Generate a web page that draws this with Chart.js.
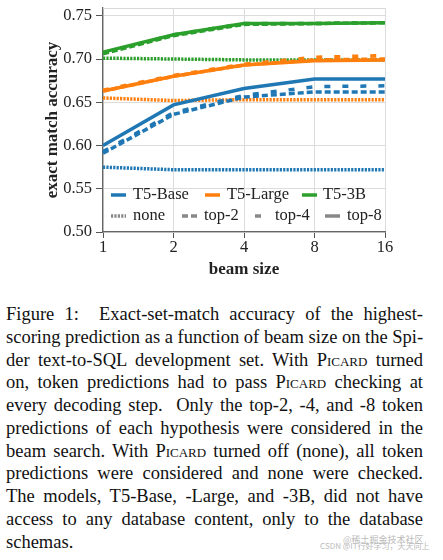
<!DOCTYPE html>
<html>
<head>
<meta charset="utf-8">
<script src="https://cdn.jsdelivr.net/npm/chart.js@4.4.1/dist/chart.umd.min.js"></script>
<style>
  body { margin: 0; background: #fff; width: 443px; height: 560px; overflow: hidden; position: relative; }
  #wrap { position: absolute; left: 0; top: 0; width: 443px; height: 285px; }
  .leg { position: absolute; font: 16.5px "Liberation Serif", serif; color: #222; white-space: nowrap; line-height: 18px; }
  #caption { position: absolute; left: 6px; top: 303px; width: 417px; font: 18.5px "Liberation Serif", serif; color: #111; line-height: 22.75px; }
  #caption div { text-align: justify; text-align-last: justify; white-space: nowrap; }
  #caption div.last { text-align-last: left; }
  .sc { font-variant: small-caps; }
  .wm { position: absolute; color: #bbb; font: 9px "Noto Sans CJK SC", sans-serif; white-space: nowrap; }
</style>
</head>
<body>
<div id="wrap"><canvas id="grafica"></canvas></div>
<div id="caption">
  <div>Figure 1:&nbsp; Exact-set-match accuracy of the highest-</div>
  <div>scoring prediction as a function of beam size on the Spi-</div>
  <div>der text-to-SQL development set. With <span class="sc">Picard</span> turned</div>
  <div>on, token predictions had to pass <span class="sc">Picard</span> checking at</div>
  <div>every decoding step.&nbsp; Only the top-2, -4, and -8 token</div>
  <div>predictions of each hypothesis were considered in the</div>
  <div>beam search. With <span class="sc">Picard</span> turned off (none), all token</div>
  <div>predictions were considered and none were checked.</div>
  <div>The models, T5-Base, -Large, and -3B, did not have</div>
  <div>access to any database content, only to the database</div>
  <div class="last">schemas.</div>
</div>
<div class="wm" style="left:343px; top:533px;">@稀土掘金技术社区</div>
<div class="wm" style="left:320px; top:540px; font-size:8px;">CSDN @IT行好学习，天天向上</div>
<script>
// Tamaños de beam (eje x)
const beamSizes = ['1', '2', '4', '8', '16'];
const yTicks = [0.50, 0.55, 0.60, 0.65, 0.70, 0.75];

// Precisión T5-Base
const baseNone = [0.575, 0.572, 0.572, 0.572, 0.572];
const baseTop2 = [0.591, 0.636, 0.656, 0.662, 0.662];
const baseTop4 = [0.593, 0.638, 0.658, 0.668, 0.669];
const baseTop8 = [0.600, 0.647, 0.666, 0.677, 0.677];

// Precisión T5-Large
const largeNone = [0.655, 0.652, 0.653, 0.653, 0.653];
const largeTop2 = [0.663, 0.680, 0.693, 0.699, 0.700];
const largeTop4 = [0.664, 0.681, 0.694, 0.702, 0.704];
const largeTop8 = [0.663, 0.680, 0.693, 0.698, 0.699];

// Precisión T5-3B
const xlNone = [0.701, 0.700, 0.699, 0.699, 0.699];
const xlTop2 = [0.706, 0.727, 0.740, 0.741, 0.742];
const xlTop4 = [0.707, 0.728, 0.741, 0.741, 0.742];
const xlTop8 = [0.708, 0.728, 0.741, 0.741, 0.742];

const modelos = ['T5-Base', 'T5-Large', 'T5-3B'];
const variantes = ['none', 'top-2', 'top-4', 'top-8'];

const colores = ['#1f77b4', '#ff7f0e', '#2ca02c'];
const guiones = [[2.2, 1.2], [6, 3], [6, 12], []];
const series = [
    [baseNone, baseTop2, baseTop4, baseTop8],
    [largeNone, largeTop2, largeTop4, largeTop8],
    [xlNone, xlTop2, xlTop4, xlTop8],
];

const datasets = [];
series.forEach((grupo, m) => {
    grupo.forEach((valores, v) => {
        datasets.push({
            label: modelos[m] + ' ' + variantes[v],
            data: valores,
            borderColor: colores[m],
            borderWidth: 3.5,
            borderDash: guiones[v],
            borderCapStyle: 'butt',
            pointRadius: 0,
            tension: 0,
            fill: false,
        });
    });
});

const fuente = { family: '"Liberation Serif", serif', size: 16.5 };
const fuenteTitulo = { family: '"Liberation Serif", serif', size: 17, weight: 'bold' };

// Borde superior gris claro del área de la gráfica
const bordeSuperior = {
    id: 'bordeSuperior',
    beforeDatasetsDraw(chart) {
        const { ctx, chartArea } = chart;
        ctx.save();
        ctx.strokeStyle = '#d9d9d9';
        ctx.lineWidth = 1;
        ctx.beginPath();
        ctx.moveTo(chartArea.left, chartArea.top + 0.5);
        ctx.lineTo(chartArea.right, chartArea.top + 0.5);
        ctx.stroke();
        ctx.restore();
    }
};

new Chart(document.getElementById('grafica'), {
    type: 'line',
    data: { labels: beamSizes, datasets: datasets },
    options: {
        responsive: true,
        maintainAspectRatio: false,
        animation: false,
        layout: { padding: { left: 0, right: 58, top: 8, bottom: 0 } },
        plugins: { legend: { display: false }, tooltip: { enabled: false } },
        scales: {
            x: {
                type: 'category',
                offset: false,
                grid: { color: '#dcdcdc', tickColor: '#555', tickLength: 6, lineWidth: 1 },
                border: { color: '#666', width: 1.3 },
                ticks: { color: '#222', font: fuente, padding: 0, maxRotation: 0, autoSkip: false },
                title: { display: true, text: 'beam size', color: '#222', font: fuenteTitulo, padding: { top: 0, bottom: 5 } },
                afterFit(scale) { scale.height = 53; scale.paddingLeft = 0; scale.paddingRight = 0; },
            },
            y: {
                min: 0.5,
                max: 0.759,
                grid: { color: '#dcdcdc', tickColor: '#555', tickLength: 7, lineWidth: 1 },
                border: { color: '#666', width: 1.3 },
                ticks: { color: '#222', font: fuente, padding: 4, callback: v => v.toFixed(2) },
                title: { display: true, text: 'exact match accuracy', color: '#222', font: fuenteTitulo, padding: { top: 42, bottom: 0 } },
                afterBuildTicks(scale) { scale.ticks = yTicks.map(v => ({ value: v })); },
                afterFit(scale) { scale.width = 103; scale.paddingTop = 0; scale.paddingBottom = 0; },
            }
        }
    },
    plugins: [bordeSuperior]
});

// Leyenda en HTML, dentro del área de la gráfica (dos filas)
const wrap = document.getElementById('wrap');
const filas = [
    { y: 195, items: modelos.map((t, i) => ({ text: t, color: colores[i], dash: [], x: [111, 205, 302][i], tx: [133, 227, 323][i] })) },
    { y: 216, items: variantes.map((t, i) => ({ text: t, color: '#888', dash: guiones[i], x: [111, 182, 255, 325][i], tx: [133, 204, 275, 347][i] })) },
];
filas.forEach(fila => {
    fila.items.forEach(it => {
        const svg = document.createElementNS('http://www.w3.org/2000/svg', 'svg');
        svg.setAttribute('width', 15);
        svg.setAttribute('height', 6);
        svg.style.position = 'absolute';
        svg.style.left = it.x + 'px';
        svg.style.top = (fila.y - 3) + 'px';
        const ln = document.createElementNS('http://www.w3.org/2000/svg', 'line');
        ln.setAttribute('x1', 0); ln.setAttribute('x2', 15);
        ln.setAttribute('y1', 3); ln.setAttribute('y2', 3);
        ln.setAttribute('stroke', it.color);
        ln.setAttribute('stroke-width', 3.5);
        if (it.dash.length) ln.setAttribute('stroke-dasharray', it.dash.join(' '));
        svg.appendChild(ln);
        wrap.appendChild(svg);
        const lab = document.createElement('div');
        lab.className = 'leg';
        lab.textContent = it.text;
        lab.style.left = it.tx + 'px';
        lab.style.top = (fila.y - 10) + 'px';
        wrap.appendChild(lab);
    });
});
</script>
</body>
</html>
